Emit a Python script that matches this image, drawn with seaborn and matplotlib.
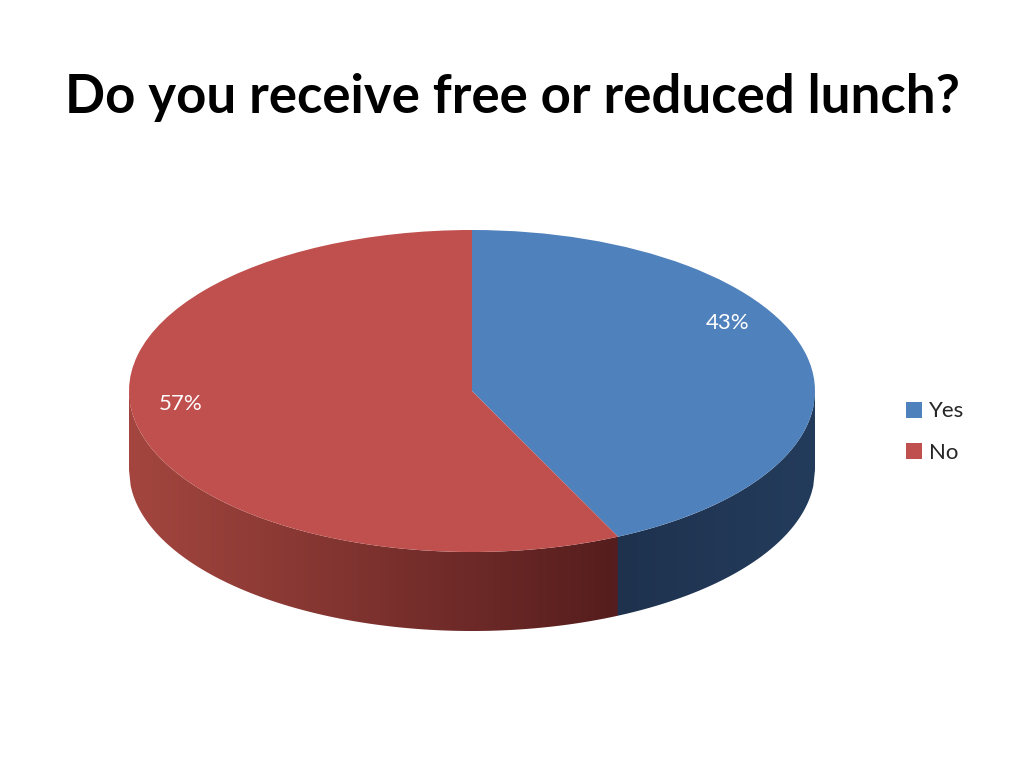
import numpy as np
import matplotlib
matplotlib.use("Agg")
import matplotlib.pyplot as plt
import seaborn as sns
from matplotlib.patches import Polygon
from matplotlib.colors import to_rgb

categories = ["Yes", "No"]
values = [43, 57]
title = "Do you receive free or reduced lunch?"

top_colors = ["#4F81BD", "#C0504D"]

sns.set_theme(style="white")
plt.rcParams['font.family'] = ['Lato', 'DejaVu Sans']

W, H = 1024, 768
fig = plt.figure(figsize=(W / 100, H / 100), dpi=100)
ax = fig.add_axes([0, 0, 1, 1])

# ellipse geometry (pixels)
cx, cy = 472, 768 - 391
rx, ry = 343, 161
depth = 79 / ry

wedges, texts, autotexts = ax.pie(
    values, colors=top_colors, startangle=90, counterclock=False,
    autopct="%1.0f%%", pctdistance=0.82, labels=None,
    wedgeprops=dict(linewidth=0), textprops=dict(color="white", fontsize=16),
    radius=1.0, center=(0, 0), frame=False)

# label placement mimicking the 3D perspective (layout only)
label_pos = [(0.745, 0.42), (-0.85, -0.08)]
for t, p in zip(autotexts, label_pos):
    t.set_position(p)

# side wall with gradient
xs = np.linspace(-1, 1, 400)
top_edge = -np.sqrt(np.clip(1 - xs ** 2, 0, None))
bot_edge = top_edge - depth
poly = np.vstack([np.column_stack([xs, top_edge]),
                  np.column_stack([xs[::-1], bot_edge[::-1]])])
clip = Polygon(poly, closed=True, facecolor="none", edgecolor="none")
ax.add_patch(clip)

cum = np.cumsum([0] + values) / sum(values)
theta_b = np.deg2rad(90 - cum[1] * 360)
xb = np.cos(theta_b)

ncol = 800
gx = np.linspace(-1, 1, ncol)
img = np.zeros((2, ncol, 3))
r_left, r_right = np.array(to_rgb("#A4463F")), np.array(to_rgb("#551D1D"))
b_left, b_right = np.array(to_rgb("#1E324E")), np.array(to_rgb("#243C5C"))
for i, x in enumerate(gx):
    if x < xb:
        t = (x + 1) / (xb + 1)
        img[:, i] = r_left * (1 - t) + r_right * t
    else:
        t = (x - xb) / (1 - xb)
        img[:, i] = b_left * (1 - t) + b_right * t
im = ax.imshow(img, extent=[-1, 1, -1 - depth, 0], aspect="auto",
               zorder=0.5, interpolation="bilinear")
im.set_clip_path(clip)
for w in wedges:
    w.set_zorder(1)
for t in autotexts:
    t.set_zorder(2)

ax.set_aspect("auto")
ax.set_xlim(-cx / rx, (W - cx) / rx)
ax.set_ylim(-cy / ry, (H - cy) / ry)
ax.axis("off")

fig.text(0.5 - 0.0, 1 - 98 / H, title, ha="center", va="center",
         fontsize=38, fontweight="bold", color="black")

fig.legend(wedges, categories, loc="center left",
           bbox_to_anchor=(0.865, 1 - 432 / H), frameon=False,
           fontsize=16, handlelength=0.75, handleheight=0.75,
           labelspacing=0.95, handletextpad=0.3)

fig.savefig("out.png", dpi=100)
